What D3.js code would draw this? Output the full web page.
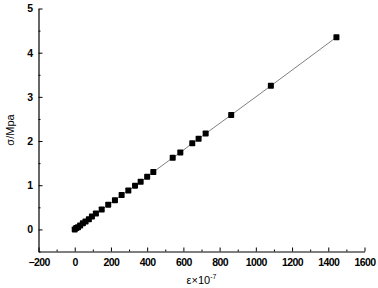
<!DOCTYPE html>
<html>
<head>
<meta charset="utf-8">
<script src="https://cdn.jsdelivr.net/npm/d3@7"></script>
<style>
  body { margin: 0; background: #fff; }
  svg text { font-family: "Liberation Sans", Arial, sans-serif; fill: #000; }
</style>
</head>
<body>
<div id="graf"></div>
<script>
// strain (x 10^-7) and stress (MPa)
strain = [0, 8, 18, 30, 45, 60, 78, 95, 117, 149, 185, 222, 259, 296, 333, 364, 400, 434, 541, 583, 649, 684, 723, 864, 1083, 1445]
stress = [0.0, 0.03, 0.05, 0.09, 0.14, 0.18, 0.23, 0.29, 0.36, 0.45, 0.56, 0.66, 0.78, 0.88, 0.99, 1.08, 1.19, 1.30, 1.62, 1.74, 1.95, 2.05, 2.17, 2.59, 3.25, 4.35]
xTicks = [-200, 0, 200, 400, 600, 800, 1000, 1200, 1400, 1600]
yTicks = [0, 1, 2, 3, 4, 5]

ancho_total = 378
alto_total = 288
margins = { top: 8.5, left: 38.5, right: 13.5, bottom: 36.5 }
ancho = ancho_total - margins.left - margins.right
alto = alto_total - margins.top - margins.bottom

data = strain.map((s, i) => ({ e: s, s: stress[i] }))

svg = d3.select('#graf').append('svg')
  .attr('width', ancho_total)
  .attr('height', alto_total)

g = svg.append('g')
  .attr('transform', `translate(${margins.left}, ${margins.top})`)

x = d3.scaleLinear().domain([-200, 1600]).range([0, ancho])
y = d3.scaleLinear().domain([-0.5, 5]).range([alto, 0])

// minor ticks
g.append('g')
  .attr('transform', `translate(0, ${alto})`)
  .call(d3.axisBottom(x).tickValues(d3.range(-100, 1600, 200)).tickSize(-2).tickFormat(''))
  .call(a => a.select('.domain').remove())
g.append('g')
  .call(d3.axisLeft(y).tickValues([-0.5, 0.5, 1.5, 2.5, 3.5, 4.5]).tickSize(-2).tickFormat(''))
  .call(a => a.select('.domain').remove())

// ejes
xAxis = g.append('g')
  .attr('transform', `translate(0, ${alto})`)
  .call(d3.axisBottom(x).tickValues(xTicks).tickFormat(d3.format('d')).tickSize(-4).tickPadding(7).tickSizeOuter(0))
yAxis = g.append('g')
  .call(d3.axisLeft(y).tickValues(yTicks).tickFormat(d3.format('d')).tickSize(-4).tickPadding(6).tickSizeOuter(0))

svg.selectAll('.tick line').attr('stroke', '#000').attr('stroke-width', 1)
svg.selectAll('.domain').attr('stroke', '#000').attr('stroke-width', 1.2)
svg.selectAll('.tick text')
  .style('font-size', '10.5px')
  .style('letter-spacing', '-0.6px')
  .style('font-weight', 'bold')
  .attr('fill', '#111')

// linea
lineaGen = d3.line().x(d => x(d.e)).y(d => y(d.s))
g.append('path')
  .datum(data)
  .attr('fill', 'none')
  .attr('stroke', '#808080')
  .attr('stroke-width', 1)
  .attr('d', lineaGen)

// puntos
g.selectAll('rect.pt')
  .data(data)
  .enter().append('rect')
  .attr('class', 'pt')
  .attr('x', d => x(d.e) - 3)
  .attr('y', d => y(d.s) - 3)
  .attr('width', 6)
  .attr('height', 6)
  .attr('rx', 0.8)
  .attr('fill', '#000')

// etiquetas de ejes
xt = svg.append('text')
  .attr('x', margins.left + ancho / 2)
  .attr('y', 284)
  .attr('text-anchor', 'middle')
  .style('font-size', '11px')
xt.append('tspan').text('ε×10')
xt.append('tspan').attr('dy', -5).style('font-size', '7px').text('-7')

svg.append('text')
  .attr('transform', `translate(14, ${margins.top + alto / 2}) rotate(-90)`)
  .attr('text-anchor', 'middle')
  .style('font-size', '11px')
  .text('σ/Mpa')
</script>
</body>
</html>
